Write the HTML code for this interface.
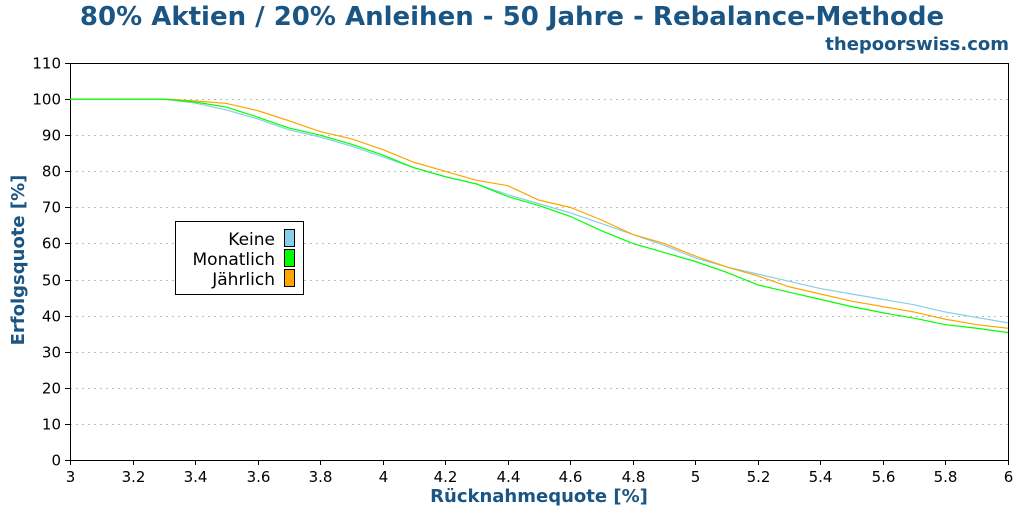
<!DOCTYPE html>
<html><head><meta charset="utf-8"><style>
body{margin:0;background:#fff;font-family:"DejaVu Sans","Liberation Sans",sans-serif}
svg text{font-family:"DejaVu Sans","Liberation Sans",sans-serif}
</style></head><body>
<svg id="c" width="1024" height="512">
<text x="512" y="25" text-anchor="middle" font-size="26" font-weight="bold" fill="#1a5583">80% Aktien / 20% Anleihen - 50 Jahre - Rebalance-Methode</text>
<text x="1009" y="50" text-anchor="end" font-size="18" font-weight="bold" fill="#1a5583">thepoorswiss.com</text>
<g id="grid"></g><g id="axes"></g><g id="lines"></g>
<text x="539" y="502" text-anchor="middle" font-size="18" font-weight="bold" fill="#1a5583">Rücknahmequote [%]</text>
<text transform="translate(24,260) rotate(-90)" text-anchor="middle" font-size="18" font-weight="bold" fill="#1a5583">Erfolgsquote [%]</text>
<g>
<rect x="175.5" y="221.5" width="128" height="73" fill="#fff" stroke="#000"/>
<g><text x="275" y="245" text-anchor="end" font-size="17">Keine</text><rect x="284.5" y="229.5" width="10" height="17" fill="#87ceeb" stroke="#000"/></g>
<g><text x="275" y="265" text-anchor="end" font-size="17">Monatlich</text><rect x="284.5" y="249.5" width="10" height="17" fill="#00ff00" stroke="#000"/></g>
<g><text x="275" y="285" text-anchor="end" font-size="17">Jährlich</text><rect x="284.5" y="269.5" width="10" height="17" fill="#ffa500" stroke="#000"/></g>
</g>
</svg>
<script>
const xs=[3.0,3.1,3.2,3.3,3.4,3.5,3.6,3.7,3.8,3.9,4.0,4.1,4.2,4.3,4.4,4.5,4.6,4.7,4.8,4.9,5.0,5.1,5.2,5.3,5.4,5.5,5.6,5.7,5.8,5.9,6.0];
const keine=[100,100,100,100,98.9,97,94.5,91.5,89.5,87,84,81,78.5,76.5,73.5,71,68.5,65.5,62.5,59.5,56,53.5,51.5,49.5,47.5,46,44.5,43,41,39.5,38];
const monatlich=[100,100,100,100,99.2,97.8,95,92,90,87.5,84.5,81,78.5,76.5,73,70.5,67.5,63.5,60,57.5,55,52,48.5,46.5,44.5,42.5,40.8,39.3,37.5,36.5,35.3];
const jaehrlich=[100,100,100,100,99.5,98.8,96.8,94,91,89,86,82.5,80,77.5,76,72,70,66.5,62.5,60,56.5,53.5,51,48,46,44,42.5,41,39,37.5,36.5];
const xTicks=[3,3.2,3.4,3.6,3.8,4,4.2,4.4,4.6,4.8,5,5.2,5.4,5.6,5.8,6];
const yTicks=[0,10,20,30,40,50,60,70,80,90,100,110];
const X0=70,X1=1008,Y0=460,Y1=63;
const sx=v=>X0+(v-3)/3*(X1-X0), sy=v=>Y0-v/110*(Y0-Y1);
const NS="http://www.w3.org/2000/svg";
function mk(t,a,p){const e=document.createElementNS(NS,t);for(const k in a)e.setAttribute(k,a[k]);p.appendChild(e);return e;}
const grid=document.getElementById('grid'),axes=document.getElementById('axes'),lines=document.getElementById('lines');
yTicks.forEach(v=>{const y=Math.round(sy(v))+.5;
 if(v>0){const g=mk('line',{x1:X0,x2:X1,y1:y,y2:y,stroke:'#bbb','stroke-dasharray':'2,4'},grid);
 
 }
 mk('line',{x1:X0-5,x2:X0,y1:y,y2:y,stroke:'#000'},axes);
 const t=mk('text',{x:X0-9,y:y+5,'text-anchor':'end','font-size':15},axes);t.textContent=v;
 
 });
xTicks.forEach(v=>{const x=Math.round(sx(v))+.5;
 mk('line',{x1:x,x2:x,y1:Y0,y2:Y0+5,stroke:'#000'},axes);
 const t=mk('text',{x:x,y:Y0+22,'text-anchor':'middle','font-size':15},axes);t.textContent=String(v);
 
 });
mk('rect',{x:X0+.5,y:Y1+.5,width:X1-X0,height:Y0-Y1,fill:'none',stroke:'#000'},axes);
[[keine,'#87ceeb','line-keine'],[jaehrlich,'#ffa500','line-jaehrlich'],[monatlich,'#00ff00','line-monatlich']].forEach(([d,c,n])=>{
 const p=mk('polyline',{points:d.map((v,i)=>sx(xs[i])+','+sy(v)).join(' '),fill:'none',stroke:c,'stroke-width':1.2},lines);
 
 });
</script>
</body></html>
